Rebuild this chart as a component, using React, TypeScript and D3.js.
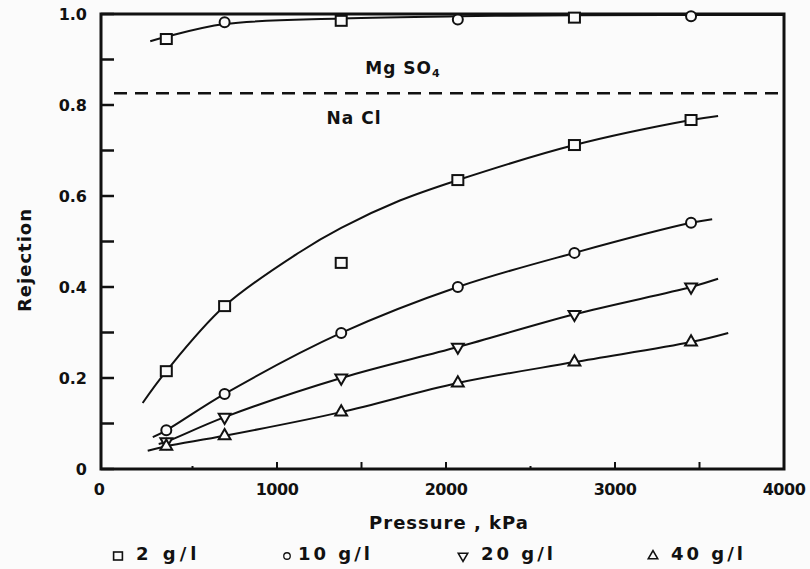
import React from "react";
import * as d3 from "d3";

// pressures where rejection was measured (kPa)
const pressures = [345, 690, 1380, 2070, 2760, 3450];

// NaCl rejection, one array per feed concentration
const nacl2 = [0.215, 0.358, 0.453, 0.635, 0.712, 0.767];
const nacl10 = [0.085, 0.165, 0.299, 0.4, 0.475, 0.541];
const nacl20 = [0.06, 0.114, 0.2, 0.268, 0.34, 0.4];
const nacl40 = [0.05, 0.073, 0.125, 0.189, 0.235, 0.279];

// MgSO4 points (all concentrations sit on top of each other near 1.0)
const mgso4 = [0.945, 0.982, 0.985, 0.988, 0.992, 0.995];

// hand-drawn fit lines, [pressure, rejection]
const fit2: [number, number][] = [[205, 0.145], [345, 0.215], [690, 0.358], [1136, 0.477], [1380, 0.53], [1727, 0.59], [2070, 0.635], [2760, 0.712], [3450, 0.767], [3610, 0.776]];
const fit10: [number, number][] = [[265, 0.07], [345, 0.085], [690, 0.165], [1380, 0.299], [2070, 0.4], [2760, 0.475], [3450, 0.541], [3575, 0.549]];
const fit20: [number, number][] = [[300, 0.055], [345, 0.06], [690, 0.114], [1380, 0.2], [2070, 0.268], [2760, 0.34], [3450, 0.4], [3610, 0.418]];
const fit40: [number, number][] = [[235, 0.04], [345, 0.05], [690, 0.073], [1380, 0.125], [2070, 0.189], [2760, 0.235], [3450, 0.279], [3670, 0.299]];
const fitMg: [number, number][] = [[250, 0.94], [345, 0.95], [690, 0.978], [1380, 0.99], [2070, 0.995], [2760, 0.997], [4000, 0.998]];

const xTicks = [0, 1000, 2000, 3000, 4000];
const xMinor = [500, 1000, 1500, 2000, 2500, 3000, 3500];
const yTicks = [0, 0.2, 0.4, 0.6, 0.8, 1.0];
const yMinor = [0.1, 0.3, 0.5, 0.7, 0.9];
const legendLabels = ["2 g/l", "10 g/l", "20 g/l", "40 g/l"];
const saltBoundary = 0.826;

const W = 810;
const H = 569;
const font = "'DejaVu Sans', sans-serif";
const ink = "#111";

const x = d3.scaleLinear().domain([0, 4000]).range([108, 784]);
const y = d3.scaleLinear().domain([0, 1]).range([469, 14]);
const left = 101;

const line = d3
  .line<[number, number]>()
  .x((d) => x(d[0]))
  .y((d) => y(d[1]))
  .curve(d3.curveCatmullRom.alpha(0.5));

function Marker({ kind, cx, cy }: { kind: string; cx: number; cy: number }) {
  const common = { fill: "#fbfbfb", stroke: ink, strokeWidth: 2 };
  if (kind === "square") return <rect x={cx - 5.5} y={cy - 5} width={11} height={10} {...common} />;
  if (kind === "circle") return <circle cx={cx} cy={cy} r={5} {...common} />;
  const tri = d3.symbol().type(d3.symbolTriangle).size(60)();
  const rot = kind === "down" ? 180 : 0;
  return <path d={tri || ""} transform={`translate(${cx},${cy}) rotate(${rot})`} {...common} />;
}

const series = [
  { kind: "square", vals: nacl2, fit: fit2 },
  { kind: "circle", vals: nacl10, fit: fit10 },
  { kind: "down", vals: nacl20, fit: fit20 },
  { kind: "up", vals: nacl40, fit: fit40 },
];

export default function App() {
  const legendX = [118, 287, 463, 653];
  const legendText = [136, 298, 481, 671];
  const legendSpacing = [4, 3, 3, 3];
  return (
    <svg
      width={W}
      height={H}
      style={{ position: "absolute", left: 0, top: 0, background: "#fbfbfb" }}
    >
      {/* frame */}
      <rect x={left} y={y(1)} width={x(4000) - left} height={y(0) - y(1)} fill="none" stroke={ink} strokeWidth={3} />

      {/* ticks, pointing inward */}
      {yTicks.concat(yMinor).map((t) => (
        <line key={"yt" + t} x1={left} x2={left + 13} y1={y(t)} y2={y(t)} stroke={ink} strokeWidth={2.5} />
      ))}
      {xMinor.map((t) => (
        <line key={"xt" + t} x1={x(t)} x2={x(t)} y1={y(0)} y2={y(0) - (t % 1000 === 0 || t === 1500 || t === 3500 ? 7 : 3)} stroke={ink} strokeWidth={2} />
      ))}

      {yTicks.map((t) => (
        <text key={"yl" + t} x={87} y={y(t)} dy="0.35em" textAnchor="end" fontFamily={font} fontWeight="bold" fontSize={16} fill={ink}>
          {t === 0 ? "0" : t.toFixed(1)}
        </text>
      ))}
      {xTicks.map((t) => (
        <text key={"xl" + t} x={t === 0 ? 99 : x(t)} y={489} dy="0.35em" textAnchor="middle" fontFamily={font} fontWeight="bold" fontSize={16} letterSpacing={-0.5} fill={ink}>
          {t}
        </text>
      ))}

      <text x={449} y={523} dy="0.35em" textAnchor="middle" fontFamily={font} fontWeight="bold" fontSize={18} letterSpacing={1} fill={ink}>
        Pressure , kPa
      </text>
      <text transform="translate(25,260) rotate(-90)" dy="0.35em" textAnchor="middle" fontFamily={font} fontWeight="bold" fontSize={18} letterSpacing={1} fill={ink}>
        Rejection
      </text>

      {/* MgSO4 / NaCl divider */}
      <line x1={left + 13} x2={x(4000) - 6} y1={y(saltBoundary)} y2={y(saltBoundary)} stroke={ink} strokeWidth={2.5} strokeDasharray="13 8" />
      <text x={403} y={68} dy="0.35em" textAnchor="middle" fontFamily={font} fontWeight="bold" fontSize={17} letterSpacing={1} fill={ink}>
        Mg SO<tspan fontSize={11} dy="3">4</tspan>
      </text>
      <text x={354} y={118} dy="0.35em" textAnchor="middle" fontFamily={font} fontWeight="bold" fontSize={17} letterSpacing={1} fill={ink}>
        Na Cl
      </text>

      {/* MgSO4 */}
      <path d={line(fitMg) || ""} fill="none" stroke={ink} strokeWidth={2} />
      {pressures.map((p, i) => (
        <Marker key={"mg" + p} kind={i % 2 === 0 ? "square" : "circle"} cx={x(p)} cy={y(mgso4[i])} />
      ))}

      {/* NaCl */}
      {series.map((s) => (
        <g key={s.kind}>
          <path d={line(s.fit) || ""} fill="none" stroke={ink} strokeWidth={2} />
          {pressures.map((p, i) => (
            <Marker key={p} kind={s.kind} cx={x(p)} cy={y(s.vals[i])} />
          ))}
        </g>
      ))}

      {/* legend */}
      {series.map((s, i) => (
        <g key={"lg" + s.kind}>
          <g transform={`translate(${legendX[i]},556) scale(${s.kind === "circle" ? 0.65 : 0.8})`}>
            <Marker kind={s.kind} cx={0} cy={0} />
          </g>
          <text x={legendText[i]} y={554} dy="0.35em" fontFamily={font} fontWeight="bold" fontSize={18} letterSpacing={legendSpacing[i]} fill={ink}>
            {legendLabels[i]}
          </text>
        </g>
      ))}
    </svg>
  );
}
